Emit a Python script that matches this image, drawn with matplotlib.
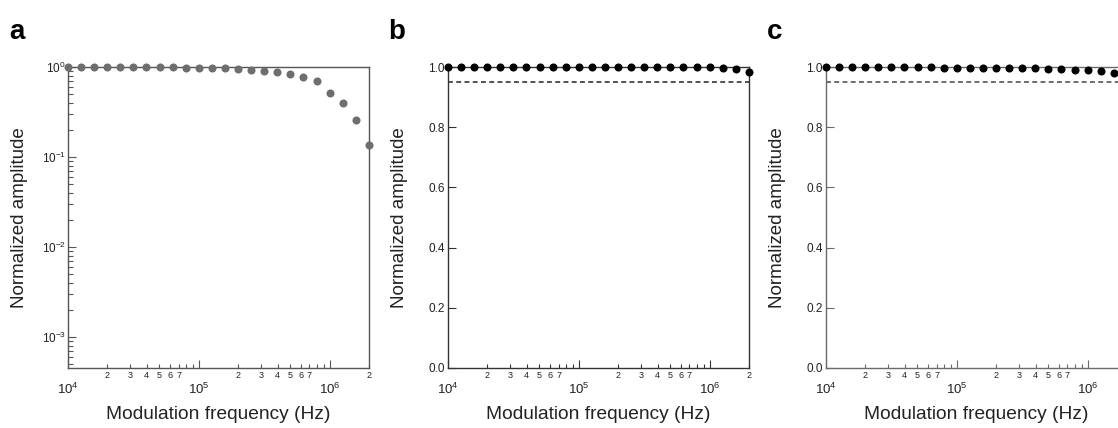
import matplotlib
matplotlib.use("Agg")
import matplotlib.pyplot as plt

plt.rcParams["font.family"] = ["Liberation Sans", "DejaVu Sans"]
plt.rcParams["mathtext.fontset"] = "custom"
plt.rcParams["mathtext.rm"] = "Liberation Sans"
plt.rcParams["mathtext.it"] = "Liberation Sans:italic"
plt.rcParams["mathtext.bf"] = "Liberation Sans:bold"

# Modulation frequencies (Hz), ten points per decade
freq_hz = [1.00e4, 1.26e4, 1.58e4, 2.00e4, 2.51e4, 3.16e4, 3.98e4, 5.01e4,
           6.31e4, 7.94e4, 1.00e5, 1.26e5, 1.58e5, 2.00e5, 2.51e5, 3.16e5,
           3.98e5, 5.01e5, 6.31e5, 7.94e5, 1.00e6, 1.26e6, 1.58e6, 2.00e6]

# Normalized amplitude for each panel
amp_a = [1.0, 1.0, 1.0, 1.0, 0.998, 0.997, 0.995, 0.993, 0.99, 0.987, 0.983,
         0.978, 0.972, 0.96, 0.93, 0.91, 0.88, 0.84, 0.77, 0.69, 0.52, 0.40,
         0.26, 0.136]
amp_b = [1.0, 1.0, 1.0, 1.0, 1.0, 1.0, 1.0, 1.0, 1.0, 1.0, 1.0, 1.0, 1.0,
         1.0, 1.0, 1.0, 1.0, 1.0, 1.0, 1.0, 0.999, 0.997, 0.993, 0.985]
amp_c = [1.0, 1.0, 1.0, 1.0, 1.0, 0.999, 0.999, 0.999, 0.999, 0.998, 0.998,
         0.998, 0.998, 0.998, 0.998, 0.996, 0.996, 0.993, 0.993, 0.991,
         0.989, 0.986, 0.981, 0.976]

threshold = 0.95

x_major = [1e4, 1e5, 1e6]
x_major_labels = [r"$10^{4}$", r"$10^{5}$", r"$10^{6}$"]
x_minor = [2e4, 3e4, 4e4, 5e4, 6e4, 7e4, 8e4, 9e4,
           2e5, 3e5, 4e5, 5e5, 6e5, 7e5, 8e5, 9e5, 2e6]
x_minor_labels = ["2", "3", "4", "5", "6", "7", "", "",
                  "2", "3", "4", "5", "6", "7", "", "", "2"]

y_log_major = [1e-3, 1e-2, 1e-1, 1e0]
y_log_labels = [r"$10^{-3}$", r"$10^{-2}$", r"$10^{-1}$", r"$10^{0}$"]
y_log_minor = [m * d for d in (1e-4, 1e-3, 1e-2, 1e-1) for m in range(2, 10)]
y_lin_ticks = [0.0, 0.2, 0.4, 0.6, 0.8, 1.0]
y_lin_labels = ["0.0", "0.2", "0.4", "0.6", "0.8", "1.0"]

W, H = 1118, 428
fig = plt.figure(figsize=(W / 100, H / 100), dpi=100)

ax_w, ax_h = 301 / W, 301 / H
bottom = 1 - 368 / H
panels = [
    ("a", 68, "#555555", "#6e6e6e", amp_a, True),
    ("b", 448, "#333333", "#000000", amp_b, False),
    ("c", 826, "#6a6a6a", "#000000", amp_c, False),
]

for letter, left_px, spine_col, dot_col, amp, logy in panels:
    ax = fig.add_axes([left_px / W, bottom, ax_w, ax_h])
    ax.set_xscale("log")
    ax.set_xlim(1e4, 2e6)
    for sp in ax.spines.values():
        sp.set_color(spine_col)
        sp.set_linewidth(1.0)

    if logy:
        ax.set_yscale("log")
        ax.set_ylim(4.5e-4, 1.0)
        ax.set_yticks(y_log_major, labels=y_log_labels)
        ax.set_yticks([v for v in y_log_minor if v > 4.5e-4], minor=True)
        ax.tick_params(axis="y", which="minor", direction="in", length=3.5,
                       width=0.8, color=spine_col)
        ax.tick_params(axis="y", which="major", labelsize=8.5, pad=1.5)
    else:
        ax.set_ylim(0.0, 1.0)
        ax.set_yticks(y_lin_ticks, labels=y_lin_labels)
        ax.yaxis.set_minor_locator(matplotlib.ticker.NullLocator())
        ax.tick_params(axis="y", which="major", labelsize=8.5, pad=2.5)
        ax.axhline(threshold, color="#222222" if letter == "b" else "#444444",
                   lw=1.1, ls=(0, (3.2, 2.2)), zorder=2)

    ax.tick_params(axis="y", which="major", direction="in", length=6,
                   width=0.8, color=spine_col, labelcolor="#222222")

    # the last minor label of panel c would fall outside the figure
    minor_labels = list(x_minor_labels)
    if letter == "c":
        minor_labels[-1] = ""
    ax.set_xticks(x_major, labels=x_major_labels)
    ax.set_xticks(x_minor, labels=minor_labels, minor=True)
    ax.tick_params(axis="x", which="major", direction="in", length=6,
                   width=0.8, color=spine_col, labelsize=9.5, pad=10,
                   labelcolor="#222222")
    ax.tick_params(axis="x", which="minor", direction="in", length=3,
                   width=0.8, color=spine_col, labelsize=6.5, pad=2.5,
                   labelcolor="#222222")

    ax.plot(freq_hz, amp, "o", color=dot_col, ms=5.8, mec="none",
            clip_on=False, zorder=5)

    ax.set_ylabel("Normalized amplitude", fontsize=13.5, color="#222222")
    ax.yaxis.set_label_coords(-40 / 301, 0.5)
    ax.set_xlabel("Modulation frequency (Hz)", fontsize=13.8, color="#222222")
    ax.xaxis.set_label_coords(0.5, -38 / 301)

    fig.text((left_px - 51) / W, 1 - 39 / H, letter, fontsize=20,
             fontweight="bold", ha="center", va="baseline")

fig.savefig("out.png", dpi=100)
